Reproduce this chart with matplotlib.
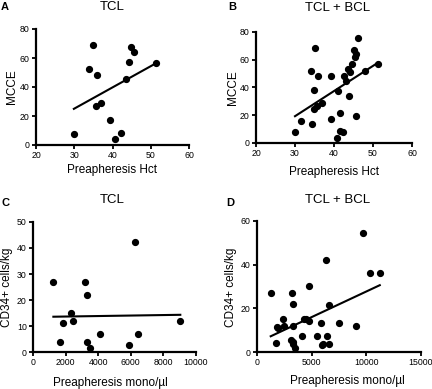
import numpy as np
import matplotlib
matplotlib.use("Agg")
import matplotlib.pyplot as plt

plt.rcParams['font.family'] = ['Liberation Sans', 'DejaVu Sans']

# Panel A: TCL, Hct vs MCCE
a_x = [29.9, 35.0, 33.9, 35.9, 35.7, 36.9, 39.3, 40.7, 42.2, 43.4, 44.4, 44.9, 45.5, 51.5]
a_y = [7.8, 69.2, 52.3, 48.4, 27.0, 29.3, 17.5, 3.9, 8.3, 45.4, 57.2, 67.8, 64.3, 56.5]

# Panel B: TCL + BCL, Hct vs MCCE
b_x = [30.0, 31.5, 34.3, 34.0, 35.0, 34.9, 34.8, 35.6, 36.0, 36.9, 39.2, 39.3, 40.9, 40.7,
       41.5, 41.5, 42.3, 42.5, 43.0, 43.5, 44.0, 43.8, 44.5, 45.0, 45.3, 45.6, 45.6, 46.2,
       48.0, 51.4]
b_y = [7.6, 15.5, 13.6, 52.1, 68.8, 38.2, 24.4, 26.7, 48.0, 29.1, 17.2, 48.0, 37.5, 3.6,
       21.5, 8.8, 8.1, 48.0, 45.0, 53.0, 51.0, 34.1, 56.8, 67.3, 62.0, 64.5, 19.1, 75.7,
       52.1, 56.6]

# Panel C: TCL, mono/ul vs CD34+
c_x = [1250, 1680, 1845, 2336, 2439, 3197, 3320, 3320, 3504, 4139, 5902, 6270, 6455, 9037]
c_y = [27.0, 3.7, 11.2, 14.9, 11.8, 27.0, 22.0, 3.7, 1.7, 6.9, 2.7, 42.2, 6.9, 11.8]

# Panel D: TCL + BCL, mono/ul vs CD34+
d_x = [1255, 1714, 1837, 1929, 2357, 2480, 3214, 3337, 3337, 3150, 3250, 3330, 3500,
       4130, 4286, 4440, 4745, 4745, 5450, 5850, 5940, 6060, 6300, 6430, 6550, 6610,
       7500, 9060, 9730, 10380, 11230]
d_y = [27.0, 4.1, 11.6, 11.0, 15.0, 11.9, 27.0, 22.1, 11.8, 5.6, 4.7, 3.7, 1.7,
       7.2, 15.3, 15.1, 30.2, 14.0, 7.2, 13.1, 3.2, 3.7, 42.3, 7.2, 21.7, 3.7,
       13.1, 12.1, 54.7, 36.3, 36.3]

W, H = 432, 389
fig = plt.figure(figsize=(W / 100, H / 100), dpi=100)
fig.patch.set_facecolor('white')


def px_axes(x0, y0, x1, y1):
    # x0,x1 left/right pixel; y0 top pixel, y1 bottom pixel
    return fig.add_axes([x0 / W, 1 - y1 / H, (x1 - x0) / W, (y1 - y0) / H])


def ftext(x, y, s, **kw):
    fig.text(x / W, 1 - y / H, s, **kw)


def panel(ax, xs, ys, xlim, ylim, xticks, yticks):
    xs = np.asarray(xs, float)
    ys = np.asarray(ys, float)
    ax.plot(xs, ys, 'o', color='black', ms=4.2, clip_on=False, zorder=3)
    k, b = np.polyfit(xs, ys, 1)
    lx = np.array([xs.min(), xs.max()])
    ax.plot(lx, k * lx + b, color='black', lw=1.5, zorder=2)
    ax.set_xlim(*xlim)
    ax.set_ylim(*ylim)
    ax.set_xticks(xticks)
    ax.set_yticks(yticks)
    for s in ['top', 'right']:
        ax.spines[s].set_visible(False)
    for s in ['left', 'bottom']:
        ax.spines[s].set_linewidth(1.6)
    ax.tick_params(direction='out', length=3, width=1.3, labelsize=6.3, pad=1.5)
    ax.set_facecolor('none')


axA = px_axes(36, 29, 189, 145)
panel(axA, a_x, a_y, (20, 60), (0, 80), [20, 30, 40, 50, 60], [0, 20, 40, 60, 80])
axB = px_axes(256, 32, 412, 143)
panel(axB, b_x, b_y, (20, 60), (0, 80), [20, 30, 40, 50, 60], [0, 20, 40, 60, 80])
axC = px_axes(33, 222, 196, 352)
panel(axC, c_x, c_y, (0, 10000), (0, 50), [0, 2000, 4000, 6000, 8000, 10000],
      [0, 10, 20, 30, 40, 50])
axD = px_axes(257, 221, 421, 352)
panel(axD, d_x, d_y, (0, 15000), (0, 60), [0, 5000, 10000, 15000], [0, 20, 40, 60])

# panel letters and titles
for (x, y, s) in [(5, 7, 'A'), (232, 7, 'B'), (5, 203, 'C'), (230, 203, 'D')]:
    ftext(x, y, s, fontsize=8, fontweight='bold', ha='center', va='center')
for (x, y, s) in [(112, 7, 'TCL'), (338, 8, 'TCL + BCL'), (112, 200, 'TCL'), (338, 200, 'TCL + BCL')]:
    ftext(x, y, s, fontsize=9.5, ha='center', va='center')

# axis labels
for (x, y, s) in [(112, 170, 'Preapheresis Hct'), (334, 172, 'Preapheresis Hct'),
                  (110, 383, 'Preapheresis mono/\u00b5l'), (347, 381, 'Preapheresis mono/\u00b5l')]:
    ftext(x, y, s, fontsize=8.5, ha='center', va='center')
for (x, y, s) in [(12, 87, 'MCCE'), (233, 88, 'MCCE'),
                  (7, 287, 'CD34+ cells/kg'), (231, 287, 'CD34+ cells/kg')]:
    ftext(x, y, s, fontsize=8.5, ha='center', va='center', rotation=90)

fig.savefig('out.png', dpi=100, facecolor='white')
